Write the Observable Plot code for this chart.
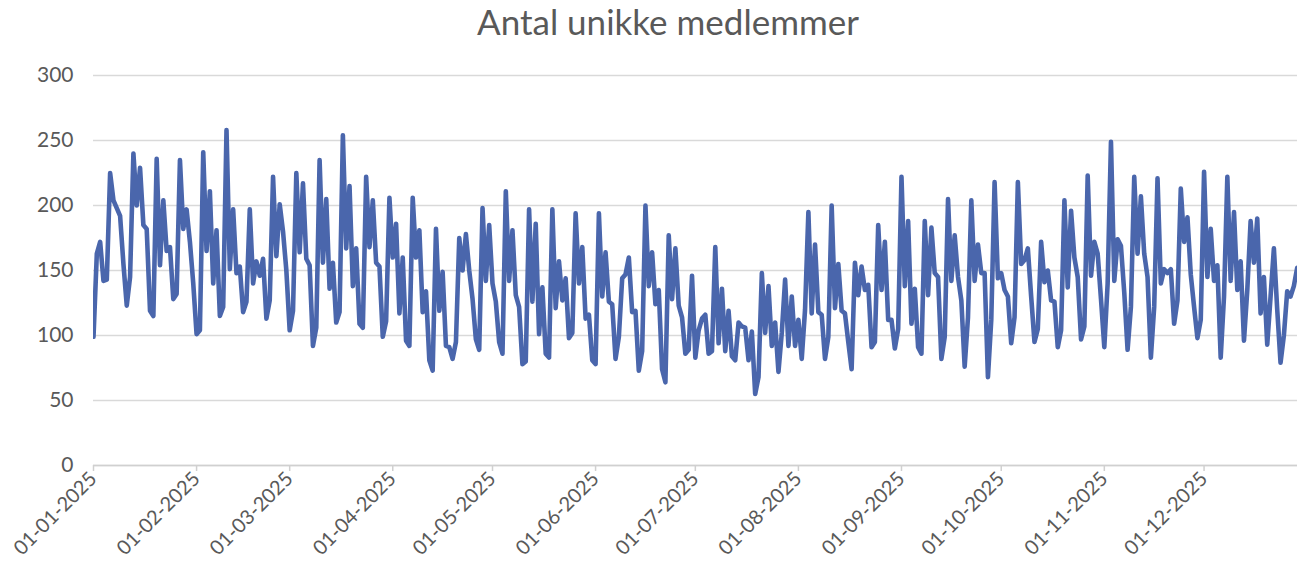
<!DOCTYPE html>
<html><head><meta charset="utf-8">
<script src="https://cdn.jsdelivr.net/npm/d3@7"></script>
<script src="https://cdn.jsdelivr.net/npm/@observablehq/plot@0.6"></script>
<style>
body{margin:0;background:#fff;overflow:hidden;width:1297px;height:577px;position:relative;}
#title{position:absolute;left:0;top:0;width:1336px;text-align:center;font-family:Lato,"Open Sans",sans-serif;font-size:35px;color:#595959;line-height:42px;}
#chart{position:absolute;left:0;top:45px;}
</style></head><body>
<div id="title">Antal unikke medlemmer</div>
<div id="chart"></div>
<script>
const year = 2025;
const jan = [99,163,172,142,143,225,204,198,192,155,123,145,240,200,229,185,182,119,115,236,154,204,165,168,128,132,235,182,197,172,140];
const feb = [101,104,241,165,211,140,181,115,122,258,151,197,148,153,118,126,197,140,157,146,159,113,127,222,161,201,180,150];
const mar = [104,119,225,164,217,159,154,92,106,235,156,205,136,156,110,118,254,167,215,138,167,109,106,222,168,204,156,153,99,111,206];
const apr = [160,186,117,160,96,92,206,160,181,118,134,81,73,182,119,149,92,91,82,95,175,150,178,150,128,97,89,198,142,185];
const may = [140,126,95,86,211,142,181,131,122,78,80,197,126,186,101,137,86,83,197,121,157,127,144,98,102,194,140,168,113,116,81];
const jun = [78,194,130,164,126,124,82,99,144,147,160,118,119,73,88,200,138,164,124,135,74,64,177,128,167,123,114,86,89,146];
const jul = [83,104,113,116,86,88,168,94,136,88,119,84,81,110,107,106,81,103,55,68,148,102,138,92,110,72,102,143,92,130,92];
const aug = [112,82,120,195,117,170,118,116,82,99,200,121,155,119,117,95,74,156,131,153,135,139,91,95,185,135,172,112,112,90,105];
const sep = [222,138,188,109,136,91,86,188,131,183,148,145,82,99,205,142,177,145,127,76,114,204,142,170,148,148,68,112,218,144];
const oct = [148,135,130,94,114,218,155,158,167,130,95,105,172,141,150,127,126,91,104,204,137,196,160,145,97,107,223,146,172,163,128];
const nov = [91,140,249,142,174,169,133,89,122,222,163,207,163,145,83,122,221,140,151,148,151,109,127,213,172,191,147,122,98,112];
const dec = [226,145,182,142,154,83,130,222,142,195,135,157,96,135,188,156,190,117,145,93,130,167,120,79,100,134,130,138,152,140,120];
const monthValues = [jan,feb,mar,apr,may,jun,jul,aug,sep,oct,nov,dec];
const xTickLabels = ["01-01-2025","01-02-2025","01-03-2025","01-04-2025","01-05-2025","01-06-2025","01-07-2025","01-08-2025","01-09-2025","01-10-2025","01-11-2025","01-12-2025"];
const yTicks = [0,50,100,150,200,250,300];

const data = [];
monthValues.forEach((arr, m) => arr.forEach((v, i) => data.push({date: new Date(Date.UTC(year, m, i + 1)), value: v})));
const start = new Date(Date.UTC(year, 0, 1));
const end = new Date(start.getTime() + 362.1 * 864e5);
const monthTicks = xTickLabels.map((_, m) => new Date(Date.UTC(year, m, 1)));
const font = "Lato, 'Open Sans', sans-serif";

const chart = Plot.plot({
  width: 1297, height: 532,
  marginTop: 30, marginBottom: 112, marginLeft: 93, marginRight: 0,
  style: {fontFamily: font, fontSize: "20px", color: "#595959", background: "white"},
  x: {type: "utc", domain: [start, end]},
  y: {domain: [0, 300]},
  marks: [
    Plot.gridY(yTicks, {stroke: "#d9d9d9", strokeOpacity: 1, strokeWidth: 1.5}),
    Plot.ruleY([0], {stroke: "#d0d0d0", strokeWidth: 1.5}),
    Plot.axisY(yTicks, {tickSize: 0, tickPadding: 20, label: null, fill: "#595959", fontSize: 21}),
    Plot.axisX(monthTicks, {tickSize: 6, stroke: "#d0d0d0", strokeWidth: 1.5, tickRotate: -45, tickPadding: 4,
      tickFormat: d => xTickLabels[d.getUTCMonth()], label: null, fill: "#595959", fontSize: 20}),
    Plot.lineY(data, {x: "date", y: "value", stroke: "#4a66ac", strokeWidth: 4.6, strokeLinejoin: "round", clip: true})
  ]
});
document.getElementById("chart").appendChild(chart);
</script>
</body></html>
